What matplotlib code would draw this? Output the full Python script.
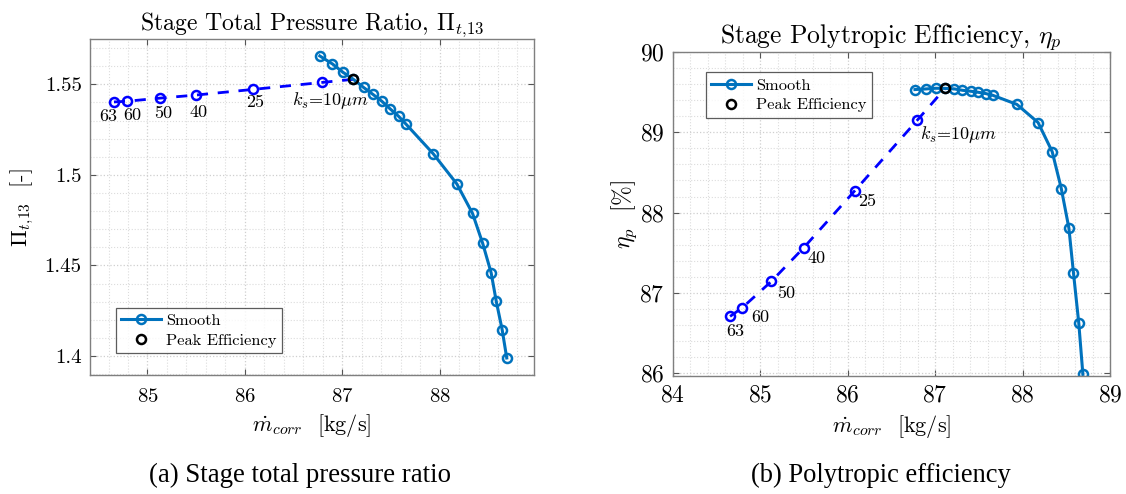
import matplotlib
matplotlib.use("Agg")
import matplotlib.pyplot as plt
from matplotlib.ticker import MultipleLocator

# corrected mass flow [kg/s], smooth blade (speedline points)
mdot_smooth = [86.77, 86.90, 87.005, 87.115, 87.22, 87.313, 87.407, 87.494, 87.579,
               87.658, 87.935, 88.178, 88.339, 88.443, 88.53, 88.582, 88.643, 88.69]
pr_smooth = [1.5657, 1.5613, 1.5568, 1.5528, 1.5483, 1.5446, 1.5407, 1.5364, 1.5324,
             1.5279, 1.5117, 1.4950, 1.4787, 1.4622, 1.4459, 1.4303, 1.4145, 1.3989]
eta_smooth = [89.535, 89.543, 89.551, 89.55, 89.543, 89.526, 89.514, 89.501, 89.485,
              89.464, 89.35, 89.123, 88.76, 88.30, 87.806, 87.25, 86.62, 85.98]
peak_idx = 3

# rough blade points, sand grain roughness k_s [um]
ks_labels = ["63", "60", "50", "40", "25", r"$k_s$=10$\mu m$"]
mdot_rough = [84.656, 84.793, 85.127, 85.497, 86.08, 86.796]
pr_rough = [1.5403, 1.5407, 1.5424, 1.5441, 1.5472, 1.5511]
eta_rough = [86.704, 86.81, 87.14, 87.56, 88.27, 89.152]

plt.rcParams["font.family"] = ["cmr10", "DejaVu Serif"]
plt.rcParams["mathtext.fontset"] = "cm"
plt.rcParams["axes.formatter.use_mathtext"] = True

W, H = 1126, 494
fig = plt.figure(figsize=(W / 100, H / 100), dpi=100)

SMOOTH = "#0072BD"
ROUGH = "#0000FF"


def px_axes(x0, y0, x1, y1):
    # axes box given in pixel coordinates of the figure (top-left origin)
    return fig.add_axes([x0 / W, 1 - y1 / H, (x1 - x0) / W, (y1 - y0) / H])


def style_axes(ax, tick_size, xpad):
    for s in ax.spines.values():
        s.set_color("#7f7f7f")
        s.set_linewidth(1.0)
    ax.tick_params(which="major", direction="in", length=4, width=0.8,
                   color="#555555", top=True, right=True, labelsize=tick_size,
                   pad=6)
    ax.tick_params(axis="x", pad=xpad)
    ax.tick_params(which="minor", length=0, top=True, right=True)
    ax.grid(which="major", color="#cfcfcf", linestyle=":", linewidth=0.9)
    ax.grid(which="minor", color="#dcdcdc", linestyle=":", linewidth=0.8)
    ax.set_axisbelow(True)


def draw(ax, y_smooth, y_rough, offsets):
    ax.plot(mdot_rough + [mdot_smooth[peak_idx]], y_rough + [y_smooth[peak_idx]],
            "--", color=ROUGH, lw=2.0, dashes=(4, 3.5))
    ax.plot(mdot_rough, y_rough, "o", color=ROUGH, ms=6.5, mfc="none", mew=1.8)
    ax.plot(mdot_smooth, y_smooth, "-o", color=SMOOTH, lw=2.2, ms=6.5,
            mfc="none", mew=1.8, label="Smooth")
    ax.plot(mdot_smooth[peak_idx], y_smooth[peak_idx], "o", color="black",
            ms=6.5, mfc="none", mew=1.8, label="Peak Efficiency")
    for lab, x, y, off in zip(ks_labels, mdot_rough, y_rough, offsets):
        ax.annotate(lab, (x, y), xytext=off, textcoords="offset pixels",
                    ha="center", va="center", fontsize=13)


def legend(ax, anchor, loc):
    leg = ax.legend(loc=loc, bbox_to_anchor=anchor, borderaxespad=0,
                    fontsize=11.8, frameon=True, fancybox=False, handlelength=2.4,
                    handletextpad=0.3, borderpad=0.35, labelspacing=0.32)
    leg.get_frame().set_edgecolor("#333333")
    leg.get_frame().set_linewidth(0.9)


# (a) stage total pressure ratio
ax1 = px_axes(90, 39.3, 534, 375)
style_axes(ax1, 15, 9)
draw(ax1, pr_smooth, pr_rough,
     [(-6, -14), (5, -14), (3, -15), (3, -17), (3, -13), (8, -18)])
ax1.set_xlim(84.41, 88.97)
ax1.set_ylim(1.3895, 1.5749)
ax1.xaxis.set_major_locator(MultipleLocator(1))
ax1.xaxis.set_minor_locator(MultipleLocator(0.2))
ax1.yaxis.set_minor_locator(MultipleLocator(0.01))
ax1.set_yticks([1.4, 1.45, 1.5, 1.55])
ax1.set_yticklabels(["1.4", "1.45", "1.5", "1.55"])
ax1.set_title(r"Stage Total Pressure Ratio, $\Pi_{t,\!13}$", fontsize=17.1, pad=7)
ax1.set_xlabel(r"$\dot{m}_{corr}$  [kg/s]", fontsize=16, labelpad=5)
ax1.set_ylabel(r"$\Pi_{t,\!13}$  [-]", fontsize=16, labelpad=6)
legend(ax1, (0.058, 0.0646), "lower left")

# (b) polytropic efficiency
ax2 = px_axes(672.7, 52.3, 1110, 376)
style_axes(ax2, 17, 6)
draw(ax2, eta_smooth, eta_rough,
     [(5, -15), (18, -9), (15, -12), (13, -11), (13, -10), (41, -14)])
ax2.set_xlim(84, 89)
ax2.set_ylim(85.96, 90)
ax2.xaxis.set_major_locator(MultipleLocator(1))
ax2.xaxis.set_minor_locator(MultipleLocator(0.2))
ax2.yaxis.set_major_locator(MultipleLocator(1))
ax2.yaxis.set_minor_locator(MultipleLocator(0.2))
ax2.set_title(r"Stage Polytropic Efficiency, $\eta_p$", fontsize=18.4, pad=5)
ax2.set_xlabel(r"$\dot{m}_{corr}$  [kg/s]", fontsize=16, labelpad=5)
ax2.set_ylabel(r"$\eta_p$  [%]", fontsize=17, labelpad=0)
legend(ax2, (0.0755, 0.938), "upper left")

# sub-figure captions
fig.text(300 / W, 1 - 475 / H, "(a) Stage total pressure ratio",
         family="Liberation Serif", fontsize=19.3, ha="center", va="center")
fig.text(881 / W, 1 - 475 / H, "(b) Polytropic efficiency",
         family="Liberation Serif", fontsize=19.1, ha="center", va="center")

fig.savefig("out.png", dpi=100)
